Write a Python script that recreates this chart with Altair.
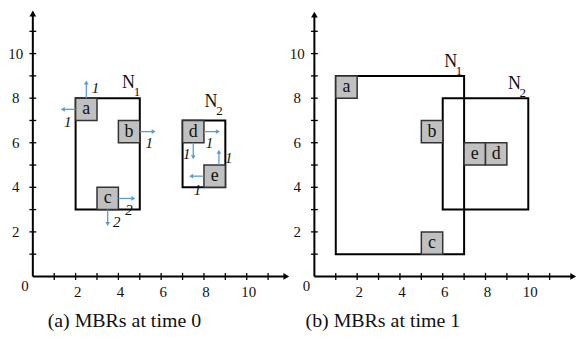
import altair as alt
import pandas as pd

# ---------------- data ----------------
tick_values = list(range(1, 12))
tick_labels = [2, 4, 6, 8, 10]

# time 0 objects
box_names_0 = ["a", "b", "c", "d", "e"]
box_x0_0 = [2, 4, 3, 7, 8]
box_x1_0 = [3, 5, 4, 8, 9]
box_y0_0 = [7, 6, 3, 6, 4]
box_y1_0 = [8, 7, 4, 7, 5]

mbr_names = ["N", "N"]
mbr_subs = ["1", "2"]
mbr_x0_0 = [2, 7]
mbr_x1_0 = [5, 9]
mbr_y0_0 = [3, 4]
mbr_y1_0 = [8, 7]
mbr_lx_0 = [4.47, 8.33]
mbr_ly_0 = [8.68, 7.81]

# time 1 objects
box_names_1 = ["a", "b", "c", "e", "d"]
box_x0_1 = [1, 5, 5, 7, 8]
box_x1_1 = [2, 6, 6, 8, 9]
box_y0_1 = [8, 6, 1, 5, 5]
box_y1_1 = [9, 7, 2, 6, 6]

mbr_x0_1 = [1, 6]
mbr_x1_1 = [7, 10]
mbr_y0_1 = [1, 3]
mbr_y1_1 = [9, 8]
mbr_lx_1 = [6.37, 9.35]
mbr_ly_1 = [9.62, 8.62]

# velocity arrows at time 0
arr_x0 = [2.5, 2.0, 5.0, 4.0, 3.5, 8.0, 7.5, 8.7, 8.0]
arr_y0 = [8.0, 7.5, 6.5, 3.5, 3.0, 6.5, 6.0, 5.0, 4.5]
arr_x1 = [2.5, 1.4, 5.65, 4.7, 3.5, 8.65, 7.5, 8.7, 7.4]
arr_y1 = [8.7, 7.5, 6.5, 3.5, 2.35, 6.5, 5.35, 5.6, 4.5]
arr_dir = ["up", "left", "right", "right", "down", "right", "down", "up", "left"]
arr_speed = ["1", "1", "1", "2", "2", "1", "1", "1", "1"]
arr_lx = [2.93, 1.63, 5.44, 4.5, 3.92, 8.26, 7.2, 9.16, 7.7]
arr_ly = [8.44, 6.92, 5.98, 2.96, 2.46, 5.98, 5.5, 5.3, 3.9]

captions = ["(a) MBRs at time 0", "(b) MBRs at time 1"]
caption_x = [4.28, 3.2]

YDOM = [-64 / 22.4, 277 / 22.4]
SHAPES = alt.Scale(domain=["up", "down", "left", "right"],
                   range=["triangle-up", "triangle-down", "triangle-left", "triangle-right"])


def panel(font, xdom, xend, yend, bx0, bx1, by0, by1, bnames,
          mx0, mx1, my0, my1, mlx, mly, cap, capx, arrows):
    xs = alt.Scale(domain=xdom, nice=False, zero=False)
    ys = alt.Scale(domain=YDOM, nice=False, zero=False)

    def X(f):
        return alt.X(f, type="quantitative", scale=xs, axis=None)

    def Y(f):
        return alt.Y(f, type="quantitative", scale=ys, axis=None)

    def txt(**kw):
        base = dict(font=font, color="#111", baseline="middle")
        base.update(kw)
        return base

    layers = []
    # axes
    ax = pd.DataFrame({"x": [0, 0], "y": [0, 0], "x2": [xend, 0], "y2": [0, yend]})
    layers.append(alt.Chart(ax).mark_rule(color="black", strokeWidth=2).encode(
        x=X("x"), y=Y("y"), x2="x2", y2="y2"))
    heads = pd.DataFrame({"x": [xend, 0], "y": [0, yend], "d": ["right", "up"]})
    layers.append(alt.Chart(heads).mark_point(filled=True, color="black", opacity=1, size=45).encode(
        x=X("x"), y=Y("y"), shape=alt.Shape("d:N", scale=SHAPES, legend=None)))
    # ticks
    tx = pd.DataFrame({"x": tick_values, "x2": tick_values,
                       "y": [-0.16] * len(tick_values), "y2": [0.16] * len(tick_values)})
    ty = pd.DataFrame({"y": tick_values, "y2": tick_values,
                       "x": [-0.16] * len(tick_values), "x2": [0.16] * len(tick_values)})
    for t in (tx, ty):
        layers.append(alt.Chart(t).mark_rule(color="black", strokeWidth=1.3).encode(
            x=X("x"), y=Y("y"), x2="x2", y2="y2"))
    # tick labels
    lx = pd.DataFrame({"v": tick_labels, "t": [str(v) for v in tick_labels],
                       "p": [-0.71] * len(tick_labels)})
    layers.append(alt.Chart(lx).mark_text(**txt(fontSize=15, dx=2)).encode(
        x=X("v"), y=Y("p"), text="t:N"))
    ly = pd.DataFrame({"v": tick_labels, "t": [str(v) for v in tick_labels],
                       "p": [-0.8] * len(tick_labels)})
    layers.append(alt.Chart(ly).mark_text(**txt(fontSize=15)).encode(
        x=X("p"), y=Y("v"), text="t:N"))
    zero = pd.DataFrame({"x": [-0.37], "y": [-0.45], "t": ["0"]})
    layers.append(alt.Chart(zero).mark_text(**txt(fontSize=15)).encode(
        x=X("x"), y=Y("y"), text="t:N"))
    # MBRs
    mb = pd.DataFrame({"x": mx0, "x2": mx1, "y": my0, "y2": my1,
                       "n": mbr_names, "s": mbr_subs, "lx": mlx, "ly": mly})
    layers.append(alt.Chart(mb).mark_rect(fillOpacity=0, stroke="black", strokeWidth=2).encode(
        x=X("x"), x2="x2", y=Y("y"), y2="y2"))
    layers.append(alt.Chart(mb).mark_text(**txt(fontSize=18)).encode(
        x=X("lx"), y=Y("ly"), text="n:N"))
    layers.append(alt.Chart(mb).mark_text(**txt(fontSize=13, dx=8.5, dy=9)).encode(
        x=X("lx"), y=Y("ly"), text="s:N"))
    # boxes
    bx = pd.DataFrame({"x": bx0, "x2": bx1, "y": by0, "y2": by1, "n": bnames})
    bx["cx"] = (bx["x"] + bx["x2"]) / 2
    bx["cy"] = (bx["y"] + bx["y2"]) / 2
    layers.append(alt.Chart(bx).mark_rect(fill="#c0c0c0", stroke="#333", strokeWidth=1.5).encode(
        x=X("x"), x2="x2", y=Y("y"), y2="y2"))
    layers.append(alt.Chart(bx).mark_text(**txt(fontSize=18)).encode(
        x=X("cx"), y=Y("cy"), text="n:N"))
    # arrows
    if arrows:
        ar = pd.DataFrame({"x": arr_x0, "y": arr_y0, "x2": arr_x1, "y2": arr_y1,
                           "d": arr_dir, "s": arr_speed, "lx": arr_lx, "ly": arr_ly})
        layers.append(alt.Chart(ar).mark_rule(color="#5b9bd5", strokeWidth=1.3).encode(
            x=X("x"), y=Y("y"), x2="x2", y2="y2"))
        layers.append(alt.Chart(ar).mark_point(filled=True, color="#5b9bd5", opacity=1, size=22).encode(
            x=X("x2"), y=Y("y2"), shape=alt.Shape("d:N", scale=SHAPES, legend=None)))
        layers.append(alt.Chart(ar).mark_text(**txt(fontSize=15, fontStyle="italic")).encode(
            x=X("lx"), y=Y("ly"), text="s:N"))
    # caption
    cp = pd.DataFrame({"x": [capx], "y": [-2.0], "t": [cap]})
    layers.append(alt.Chart(cp).mark_text(**txt(fontSize=20)).encode(
        x=X("x"), y=Y("y"), text="t:N"))

    return alt.layer(*layers).properties(width=291, height=341)


left = panel("Tinos", [-33 / 21.5, 258 / 21.5], 11.85, 11.8,
             box_x0_0, box_x1_0, box_y0_0, box_y1_0, box_names_0,
             mbr_x0_0, mbr_x1_0, mbr_y0_0, mbr_y1_0, mbr_lx_0, mbr_ly_0,
             captions[0], caption_x[0], True)
right = panel("Times New Roman", [-22 / 21.5, 269 / 21.5], 12.1, 11.75,
              box_x0_1, box_x1_1, box_y0_1, box_y1_1, box_names_1,
              mbr_x0_1, mbr_x1_1, mbr_y0_1, mbr_y1_1, mbr_lx_1, mbr_ly_1,
              captions[1], caption_x[1], False)

chart = (alt.hconcat(left, right, spacing=0)
         .properties(padding=0)
         .configure_view(strokeWidth=0))

chart.save("out.html", embed_options={"renderer": "svg", "actions": False})
